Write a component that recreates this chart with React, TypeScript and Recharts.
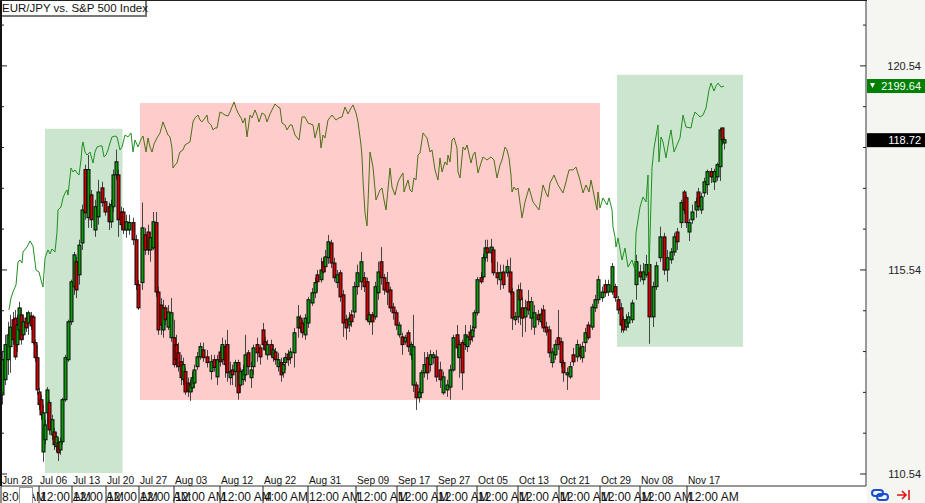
import React from "react";
import { ComposedChart, Bar, Line, XAxis, YAxis, ReferenceArea, ReferenceDot } from "recharts";

const title = "EUR/JPY vs. S&P 500 Index";
const lastPrice = 118.72;
const lastSpx = 2199.64;

// Position on the non-linear time axis (trading time, one unit is a few hours).
const candleTime = [
  2,5,8,10,13,15,17,19,21,23,
  26,28,31,33,35,37,39,41,43,45,
  47,49,52,54,56,58,60,62,65,68,
  71,74,76,79,82,85,88,91,95,98,
  102,105,109,111,113,116,118,121,123,126,
  129,133,136,138,142,145,148,150,153,156,
  158,161,163,165,168,171,174,176,178,181,
  183,185,188,190,192,194,197,200,203,207,
  211,214,217,220,222,225,227,230,232,235,
  238,240,243,245,248,251,253,257,260,263,
  265,267,271,273,275,278,281,283,285,288,
  290,294,298,300,302,305,308,312,315,317,
  321,323,325,328,331,334,337,340,343,346,
  349,351,354,357,361,364,367,369,372,375,
  378,381,384,387,390,393,396,399,402,405,
  408,411,413,416,419,421,424,427,430,433,
  436,440,443,447,450,453,457,459,462,465,
  467,470,472,474,477,481,483,485,487,491,
  493,497,500,503,507,510,512,515,518,520,
  522,525,528,531,534,538,541,543,546,549,
  552,555,558,561,563,567,570,573,577,580,
  582,585,588,592,595,598,602,605,608,612,
  615,618,621,623,626,628,632,636,640,643,
  646,649,653,656,660,664,667,671,674,677,
  681,684,686,689,692,696,698,701,704,707,
  711,714,717,720,722,724,
];
const bodyHigh = [
  113.34,113.71,113.95,114.14,114.32,114.36,114.19,114.61,114.44,114.27,
  114.36,114.49,114.41,114.39,113.76,113.39,112.55,112.36,112.04,111.74,
  112.60,112.29,111.87,111.57,111.45,111.30,111.33,112.36,113.39,114.27,
  115.25,115.91,115.74,116.15,117.01,118.00,118.00,117.38,117.09,117.45,
  117.55,117.21,117.09,117.14,117.87,118.19,117.87,116.96,116.96,116.72,
  116.70,116.70,116.28,115.18,116.57,116.40,116.47,116.33,116.72,116.70,
  115.00,114.68,114.61,114.61,114.51,114.49,113.88,113.71,113.51,113.29,
  113.22,113.05,112.77,112.72,112.90,113.09,113.41,113.66,113.58,113.41,
  113.29,113.34,113.34,113.53,113.71,113.66,113.71,113.05,113.09,113.27,
  113.27,113.05,113.09,113.46,113.51,113.09,113.63,113.71,113.63,114.07,
  113.78,113.71,113.71,113.58,113.53,113.34,113.27,113.22,113.39,113.48,
  113.53,114.00,114.39,114.36,114.24,114.36,114.81,114.98,115.23,115.42,
  115.54,115.74,115.86,116.23,116.20,115.71,115.42,115.47,114.93,114.32,
  114.36,114.44,115.13,115.47,115.74,115.35,115.25,114.44,114.44,115.13,
  115.49,115.74,115.35,115.23,115.05,114.63,114.49,114.19,113.90,113.88,
  114.00,113.71,113.66,112.72,112.55,113.02,113.22,113.39,113.46,113.46,
  113.41,113.09,112.92,112.72,113.09,113.88,113.95,113.71,113.76,113.95,
  113.90,114.02,114.07,114.49,115.30,115.35,115.84,116.08,116.08,116.10,
  116.03,115.47,115.47,115.49,115.62,115.49,115.00,114.39,115.05,115.05,
  114.61,114.61,114.76,114.76,114.49,114.44,114.46,114.56,114.14,114.07,
  113.53,113.71,113.88,113.78,113.27,113.02,113.17,113.46,113.71,113.63,
  113.66,114.00,114.19,114.63,114.81,115.30,115.00,115.18,115.18,115.62,
  115.13,114.81,114.61,114.32,114.32,114.39,114.73,115.74,115.49,115.49,
  115.67,115.67,115.13,115.64,116.35,116.35,115.84,115.98,116.35,116.47,
  117.19,117.45,117.31,116.70,116.96,117.21,117.45,117.33,117.70,117.95,
  117.95,117.95,118.12,118.97,119.02,118.73,
];
const bodyLow = [
  112.48,112.85,113.34,113.66,113.83,113.41,113.71,114.07,113.83,113.95,
  114.12,114.24,114.17,113.76,113.39,112.60,112.24,111.99,111.08,111.38,
  112.04,111.62,111.50,111.26,111.21,111.06,111.13,111.33,112.36,113.34,
  114.27,115.13,115.05,115.42,116.20,116.94,116.82,116.77,116.52,116.84,
  117.19,116.96,116.72,116.72,117.09,117.87,116.77,116.65,116.52,116.52,
  116.52,116.28,115.18,114.61,115.23,116.03,116.03,116.03,116.08,115.00,
  114.07,114.19,114.07,114.32,114.14,113.88,113.22,113.34,113.17,112.90,
  112.85,112.55,112.57,112.55,112.65,112.77,113.17,113.41,113.39,113.27,
  113.05,113.15,112.92,113.29,113.34,113.22,113.02,112.90,112.97,113.05,
  112.53,112.72,112.85,112.97,113.17,112.90,113.17,113.51,113.41,113.71,
  113.58,113.46,113.46,113.39,113.34,113.17,112.97,113.02,113.27,113.34,
  113.39,113.51,114.12,114.12,114.00,113.95,114.24,114.73,114.98,115.25,
  115.30,115.49,115.62,115.84,115.71,115.35,115.23,114.88,114.24,114.12,
  114.19,114.27,114.51,115.13,115.25,115.13,114.32,114.27,114.27,114.39,
  114.98,115.35,115.05,115.00,114.61,114.49,114.19,113.95,113.71,113.78,
  113.66,113.46,112.72,112.41,112.41,112.53,113.02,113.02,113.22,113.39,
  112.92,112.85,112.53,112.60,112.67,113.09,113.63,113.39,113.02,113.71,
  113.66,113.83,113.90,114.12,114.49,115.25,115.37,115.84,115.96,115.96,
  115.47,115.35,115.30,115.18,115.47,115.00,114.36,114.32,114.39,114.81,
  114.36,114.39,114.56,114.36,114.14,114.32,114.27,114.12,114.02,113.51,
  113.27,113.46,113.71,113.27,113.02,112.97,112.92,113.29,113.41,113.44,
  113.39,113.76,113.88,114.14,114.61,114.81,114.86,114.98,115.00,115.00,
  114.86,114.56,114.19,114.07,114.14,114.24,114.32,115.18,115.37,115.30,
  115.42,114.39,114.39,115.13,115.84,115.54,115.54,115.79,115.98,116.23,
  116.70,117.01,116.70,116.47,116.77,117.01,117.09,117.01,117.43,117.63,
  117.82,117.70,117.82,118.07,118.73,118.65,
];
const highs = [
  113.53,113.95,114.27,114.44,114.51,114.56,114.44,114.76,114.61,114.44,
  114.51,114.54,114.51,114.44,113.83,113.71,112.65,112.48,112.24,111.87,
  112.67,112.36,111.99,111.67,111.57,111.43,111.43,112.41,113.46,114.32,
  115.30,115.98,115.86,116.28,117.14,118.12,118.36,117.50,117.26,117.75,
  117.70,117.31,117.19,117.26,118.00,118.49,118.00,117.09,117.06,116.89,
  116.89,116.82,116.40,115.30,117.19,116.57,116.65,116.47,116.96,116.96,
  115.13,114.85,114.81,114.68,114.68,114.85,114.32,113.95,113.76,113.46,
  113.39,113.15,112.90,112.85,113.05,113.22,113.53,113.76,113.76,113.58,
  113.46,113.46,113.46,113.66,113.88,113.83,114.07,113.29,113.22,113.34,
  113.34,113.15,113.22,113.95,113.58,113.29,113.71,113.88,113.71,114.24,
  113.90,113.83,113.83,113.71,113.63,113.51,113.39,113.39,113.51,113.58,
  113.63,114.12,114.68,114.44,114.32,114.46,114.88,115.10,115.35,115.54,
  115.84,115.84,116.03,116.40,116.28,115.84,115.54,115.54,115.05,114.44,
  114.51,114.56,115.25,115.67,115.98,115.49,115.35,114.51,114.51,115.25,
  115.74,116.10,115.44,115.49,115.13,114.73,114.56,114.27,114.00,113.95,
  114.07,113.78,114.44,112.80,112.65,113.09,113.53,113.53,113.58,113.53,
  113.58,113.29,113.05,112.85,113.22,113.95,114.19,113.83,113.83,114.19,
  113.95,114.19,114.17,114.56,115.37,115.49,115.94,116.28,116.28,116.30,
  116.10,115.74,115.67,115.67,115.79,115.84,115.10,114.51,115.18,115.23,
  114.88,114.81,115.05,114.88,114.68,114.56,114.61,114.68,114.27,114.17,
  113.63,113.83,114.56,113.88,113.34,113.15,113.29,113.63,113.83,113.73,
  113.78,114.12,114.27,114.71,114.93,115.40,115.13,115.30,115.30,115.71,
  115.20,114.90,114.73,114.41,114.46,114.51,114.81,115.91,115.67,115.71,
  115.91,115.98,115.25,115.74,116.60,116.45,116.03,116.08,116.45,116.57,
  117.26,117.50,117.38,116.79,117.14,117.31,117.55,117.43,117.80,118.00,
  118.04,118.02,118.17,119.02,119.02,118.80,
];
const lows = [
  112.24,112.72,112.97,113.02,113.71,113.34,113.53,113.83,113.71,113.83,
  114.02,113.95,114.07,113.71,113.29,112.48,112.11,111.87,110.84,111.26,
  111.74,111.50,111.38,111.13,111.08,110.86,111.01,111.26,112.31,113.29,
  114.19,114.93,114.85,115.18,116.03,116.77,116.57,116.57,116.35,116.65,
  117.09,116.87,116.52,116.57,116.96,117.75,116.35,116.52,116.42,116.33,
  116.40,116.15,115.05,114.56,115.05,115.91,115.91,115.74,116.03,114.88,
  113.95,113.95,113.88,114.19,114.07,113.78,113.15,113.15,113.05,112.72,
  112.72,112.48,112.43,112.33,112.55,112.65,113.09,113.34,113.29,113.15,
  112.85,113.05,112.72,113.17,113.22,112.90,112.80,112.72,112.72,112.67,
  112.36,112.53,112.72,112.80,112.97,112.65,112.97,113.29,113.22,113.58,
  113.46,113.34,113.39,113.29,113.22,113.05,112.80,112.90,113.09,113.19,
  113.24,113.15,113.88,114.02,113.88,113.83,114.12,114.66,114.85,115.00,
  115.23,115.44,115.49,115.69,115.59,115.25,115.10,114.76,113.90,113.83,
  114.02,114.14,114.36,114.93,115.05,115.00,114.27,114.19,113.95,114.32,
  114.81,115.18,114.93,114.68,114.51,114.32,114.07,113.88,113.46,113.71,
  113.53,113.34,112.55,112.11,112.29,112.41,112.90,112.85,113.05,113.24,
  112.80,112.65,112.48,112.43,112.36,113.05,113.39,112.90,112.60,113.58,
  113.53,113.71,113.78,114.02,114.42,115.20,115.30,115.74,115.74,115.71,
  115.40,115.18,115.05,115.08,115.37,114.93,114.07,114.19,114.24,114.19,
  113.90,114.02,114.44,114.07,113.95,114.19,114.17,114.02,113.93,113.39,
  113.15,113.34,113.58,113.15,112.80,112.60,112.87,113.19,113.29,113.34,
  113.27,113.53,113.83,114.07,114.51,114.71,114.76,114.88,114.90,114.93,
  114.76,114.46,114.00,114.00,114.05,114.12,114.24,114.81,115.25,115.18,
  115.35,113.73,114.14,115.05,115.74,115.42,115.25,115.69,115.89,116.03,
  116.57,116.91,116.57,116.25,116.67,116.82,116.99,116.91,117.33,117.38,
  117.67,117.50,117.72,117.72,118.60,118.49,
];
// One letter per candle: u closed above its open, d closed below it.
const closedUp = [
  "uuuudduudu","dudddddduu","udududuuuu","uuduududuu","ddduuudddu",
  "udddudduud","dduduudddd","udduuuuudd","udududdudu","duuuduuddd",
  "dudududuud","uuudduuuud","uduudduddd","uduuuddudu","uddddddudu",
  "duuduuuduu","dduuuududu","uduuuduudu","ddududduud","duduududdd",
  "uuddduudud","uuduuuuduu","dddduuuudu","uduuuduuud","udduuuduuu",
  "duuudu",
].join("");

const spxTime = [
  9,11,13,16,18,20,22,23,27,30,
  33,36,39,41,43,45,48,50,52,55,
  57,58,61,63,65,67,68,71,73,75,
  77,79,81,82,83,85,87,90,93,95,
  97,100,102,104,106,108,110,112,115,117,
  120,122,125,128,131,133,135,138,141,143,
  146,148,150,152,154,157,160,163,166,168,
  170,172,173,175,177,179,180,183,185,188,
  190,193,195,198,200,202,205,207,208,211,
  213,215,217,220,222,225,228,230,234,236,
  238,241,243,245,247,250,252,255,257,259,
  262,265,267,270,272,275,278,280,282,285,
  287,290,292,295,299,302,305,308,313,315,
  319,321,323,325,328,332,336,339,342,345,
  348,351,353,356,358,361,362,363,365,367,
  368,370,373,376,378,380,382,384,386,390,
  392,395,398,401,403,404,406,408,410,412,
  414,416,418,420,423,427,430,432,435,438,
  440,442,445,447,448,450,452,454,457,458,
  460,463,465,467,471,473,475,478,481,483,
  487,491,494,497,500,502,505,507,509,511,
  512,514,516,518,522,525,529,533,539,543,
  546,548,550,554,558,563,566,569,573,576,
  580,583,586,589,591,594,597,598,600,603,
  607,609,612,613,615,616,618,622,625,628,
  632,635,636,640,643,646,648,649,652,654,
  658,659,661,663,666,669,671,674,677,680,
  683,686,691,693,695,700,703,706,709,711,
  714,716,718,721,724,
];
const spxValue = [
  2059.7,2067.2,2070.9,2075.3,2089.7,2090.9,2089.0,2095.9,2099.0,2102.8,
  2099.7,2084.7,2083.4,2078.4,2074.0,2092.2,2097.2,2094.7,2097.8,2095.9,
  2108.4,2122.2,2124.0,2129.7,2132.8,2134.7,2131.5,2148.4,2145.9,2147.2,
  2145.3,2144.0,2153.4,2161.5,2164.7,2158.4,2156.5,2158.4,2151.5,2158.4,
  2161.5,2162.2,2162.2,2155.3,2156.5,2159.7,2164.0,2167.8,2168.4,2167.8,
  2159.7,2161.5,2169.0,2167.8,2170.3,2158.4,2165.9,2161.5,2166.5,2168.4,
  2158.4,2167.2,2161.5,2158.4,2163.4,2167.2,2170.3,2177.2,2172.2,2169.0,
  2167.8,2160.9,2148.4,2150.3,2151.5,2156.5,2158.4,2159.7,2162.8,2164.0,
  2164.7,2177.2,2179.7,2181.5,2178.4,2177.2,2179.7,2181.5,2177.2,2175.3,
  2172.2,2173.4,2173.4,2183.4,2182.8,2181.5,2180.9,2183.4,2189.7,2185.9,
  2182.8,2179.7,2176.5,2179.7,2167.8,2181.5,2179.7,2184.7,2181.5,2177.2,
  2182.8,2181.5,2177.2,2182.2,2184.7,2188.4,2186.5,2185.9,2176.5,2175.3,
  2172.2,2175.3,2175.3,2169.0,2165.9,2180.3,2180.3,2176.5,2175.3,2167.2,
  2176.5,2160.9,2169.0,2167.2,2178.4,2181.5,2178.4,2179.7,2180.3,2186.5,
  2182.2,2185.9,2187.8,2182.8,2177.2,2162.8,2155.3,2140.9,2120.3,2112.2,
  2126.5,2158.4,2149.0,2128.4,2131.5,2134.7,2135.9,2128.4,2122.2,2148.4,
  2136.5,2131.5,2139.7,2143.4,2145.3,2133.4,2137.2,2140.9,2134.7,2133.4,
  2142.2,2140.9,2156.5,2157.8,2170.3,2167.2,2158.4,2159.7,2147.2,2140.9,
  2154.7,2145.9,2152.2,2150.3,2156.5,2152.2,2165.9,2167.2,2160.9,2145.9,
  2142.2,2161.5,2159.7,2162.8,2151.5,2156.5,2158.4,2145.3,2151.5,2155.3,
  2153.4,2155.3,2153.4,2142.2,2150.3,2153.4,2161.5,2159.7,2154.7,2144.0,
  2133.4,2136.5,2134.7,2135.9,2117.2,2127.2,2135.9,2127.2,2122.2,2137.8,
  2132.8,2130.3,2139.0,2144.0,2137.8,2132.8,2139.7,2147.2,2147.2,2149.0,
  2140.9,2132.8,2137.8,2133.4,2140.9,2131.5,2122.2,2133.4,2123.4,2129.7,
  2125.3,2129.7,2122.2,2111.5,2105.3,2099.0,2104.7,2090.9,2098.4,2086.5,
  2090.9,2084.7,2107.8,2124.0,2130.3,2127.2,2144.0,2083.4,2148.4,2160.9,
  2175.3,2152.2,2167.8,2164.7,2154.7,2165.9,2172.2,2158.4,2162.8,2167.2,
  2181.5,2174.0,2173.4,2179.7,2183.4,2180.3,2181.5,2185.9,2197.2,2201.5,
  2196.5,2199.7,2201.5,2199.0,2199.6,
];

const timeTicks = [1,39,72,106,139,174,220,263,308,356,397,437,477,518,559,600,640,687];
const dateLabels = ["Jun 28","Jul 06","Jul 13","Jul 20","Jul 27","Aug 03","Aug 12","Aug 22","Aug 31","Sep 09","Sep 17","Sep 27","Oct 05","Oct 13","Oct 21","Oct 29","Nov 08","Nov 17"];
const hourLabels = ["8:00 AM","12:00 AM","12:00 AM","12:00 AM","12:00 AM","12:00 AM","12:00 AM","4:00 AM","12:00 AM","12:00 AM","12:00 AM","12:00 AM","12:00 AM","12:00 AM","12:00 AM","12:00 AM","12:00 AM","12:00 AM"];
const priceTicks = [121.54,120.54,119.54,118.54,117.54,116.54,115.54,114.54,113.54,112.54,111.54,110.54];
const labelledPrices = [120.54,115.54,110.54];

const zoneStart = [45,140,617];
const zoneEnd = [122.5,600,743];
const zoneTop = [119.0,119.63,120.32];
const zoneBottom = [110.565,112.354,113.66];
const zoneColor = ["#cce5ce","#ffcccc","#cce5ce"];

const FONT = "'Liberation Sans', Arial, sans-serif";
const WIDTH = 925;
const HEIGHT = 503;

const candles = candleTime.map((t, i) => {
  const isUp = closedUp[i] === "u";
  return {
    t,
    high: highs[i],
    low: lows[i],
    open: isUp ? bodyLow[i] : bodyHigh[i],
    close: isUp ? bodyHigh[i] : bodyLow[i],
    range: [lows[i], highs[i]],
  };
});
const spxRows = spxTime.map((t, i) => ({ t, spx: spxValue[i] }));
const spxBefore = spxRows.filter((r) => r.t <= zoneStart[1] + 1);
const spxInside = spxRows.filter((r) => r.t >= spxBefore[spxBefore.length - 1].t && r.t <= zoneEnd[1] + 1);
const spxAfter = spxRows.filter((r) => r.t >= spxInside[spxInside.length - 1].t);

function CandleShape(props: any) {
  const { x, y, width, height, payload } = props;
  const h = Math.abs(height) || 1;
  const top = Math.min(y, y + height);
  const perUnit = h / (payload.high - payload.low);
  const cx = Math.round(x + width / 2) + 0.5;
  const bodyTop = top + (payload.high - Math.max(payload.open, payload.close)) * perUnit;
  const bodyH = Math.max(1, Math.abs(payload.open - payload.close) * perUnit);
  return (
    <g>
      <line x1={cx} x2={cx} y1={top} y2={top + h} stroke="#2a2a2a" strokeWidth={1} strokeOpacity={0.85} />
      <rect
        x={cx - 1.5}
        y={bodyTop}
        width={3}
        height={bodyH}
        fill={payload.close >= payload.open ? "#0a9e0a" : "#d40000"}
        stroke="#0a0a0a"
        strokeWidth={1}
      />
    </g>
  );
}

function TimeTick(props: any) {
  const { x, y, index } = props;
  return (
    <g fontFamily={FONT}>
      <text x={x + 1} y={y - 2.5} fontSize={10.2} fill="#111">{dateLabels[index]}</text>
      <line x1={x} x2={x} y1={y} y2={y + 17} stroke="#222" />
      <text x={x + 1} y={y + 15} fontSize={12} fill="#111">{hourLabels[index]}</text>
    </g>
  );
}

function RightTick(props: any) {
  const { x, y, payload } = props;
  const major = labelledPrices.includes(payload.value);
  return (
    <g fontFamily={FONT}>
      <line x1={x} x2={x - (major ? 6 : 3)} y1={y} y2={y} stroke="#222" />
      {major && (
        <text x={x + 55} y={y + 4} textAnchor="end" fontSize={11} fill="#222">{payload.value.toFixed(2)}</text>
      )}
    </g>
  );
}

function LeftTick(props: any) {
  const { x, y, payload } = props;
  const major = labelledPrices.includes(payload.value);
  return <line x1={x} x2={x + (major ? 6 : 3)} y1={y} y2={y} stroke="#222" />;
}

function PriceTag(props: any) {
  const { cx, cy, tagColor, text, arrow } = props;
  return (
    <g fontFamily={FONT}>
      <rect x={cx + 1} y={cy - 7} width={58} height={14} fill={tagColor} />
      {arrow && <path d={`M${cx + 4} ${cy - 3}h5l-2.5 5z`} fill="#fff" />}
      <text x={cx + 55} y={cy + 4} textAnchor="end" fontSize={11} fill="#fff">{text}</text>
    </g>
  );
}

export default function App() {
  return (
    <div style={{ position: "fixed", left: 0, top: 0, width: WIDTH, height: HEIGHT, background: "#fff", overflow: "hidden" }}>
      <div style={{ position: "absolute", left: 867, top: 0, width: 58, height: HEIGHT, background: "#f5f5f2" }} />
      <ComposedChart
        width={WIDTH}
        height={HEIGHT}
        data={candles}
        margin={{ top: 1, right: 0, bottom: 0, left: 0 }}
        style={{ position: "absolute", left: 0, top: 0 }}
      >
        <XAxis
          dataKey="t"
          type="number"
          domain={[1, 866]}
          ticks={timeTicks}
          interval={0}
          height={17}
          tickSize={0}
          tickMargin={0}
          tickLine={false}
          tick={<TimeTick />}
          axisLine={{ stroke: "#333" }}
          allowDataOverflow
        />
        <YAxis
          yAxisId="price"
          orientation="right"
          width={59}
          domain={[110.246, 122.13]}
          ticks={priceTicks}
          interval={0}
          tickSize={0}
          tickMargin={0}
          tickLine={false}
          tick={<RightTick />}
          axisLine={{ stroke: "#333" }}
          allowDataOverflow
        />
        <YAxis
          yAxisId="priceLeft"
          orientation="left"
          width={1}
          domain={[110.246, 122.13]}
          ticks={priceTicks}
          interval={0}
          tickSize={0}
          tickMargin={0}
          tickLine={false}
          tick={<LeftTick />}
          axisLine={{ stroke: "#111", strokeWidth: 2 }}
          allowDataOverflow
        />
        <YAxis yAxisId="spx" hide domain={[1949.65, 2252.78]} allowDataOverflow />
        {zoneStart.map((x1, i) => (
          <ReferenceArea
            key={x1}
            yAxisId="price"
            x1={x1}
            x2={zoneEnd[i]}
            y1={zoneBottom[i]}
            y2={zoneTop[i]}
            fill={zoneColor[i]}
            fillOpacity={1}
            stroke="none"
            ifOverflow="visible"
          />
        ))}
        <Line data={spxBefore} yAxisId="spx" dataKey="spx" stroke="#1f8f1f" strokeWidth={1} dot={false} isAnimationActive={false} />
        <Line data={spxInside} yAxisId="spx" dataKey="spx" stroke="#4c6f16" strokeWidth={1} dot={false} isAnimationActive={false} />
        <Line data={spxAfter} yAxisId="spx" dataKey="spx" stroke="#1f8f1f" strokeWidth={1} dot={false} isAnimationActive={false} />
        <Bar
          yAxisId="price"
          dataKey="range"
          barSize={3}
          shape={<CandleShape />}
          isAnimationActive={false}
        />
        <ReferenceDot
          yAxisId="spx"
          x={866}
          y={lastSpx}
          r={0}
          ifOverflow="visible"
          shape={<PriceTag tagColor="#008000" text={lastSpx.toFixed(2)} arrow />}
        />
        <ReferenceDot
          yAxisId="price"
          x={866}
          y={lastPrice}
          r={0}
          ifOverflow="visible"
          shape={<PriceTag tagColor="#000" text={lastPrice.toFixed(2)} />}
        />
      </ComposedChart>
      <div style={{ position: "absolute", left: 0, top: 0, width: 867, height: 1, background: "#222" }} />
      <div
        style={{
          position: "absolute",
          left: 2,
          top: 1,
          width: 143,
          height: 14,
          background: "#fff",
          borderRight: "2px solid #777",
          borderBottom: "2px solid #777",
          fontFamily: FONT,
          fontSize: 11.5,
          lineHeight: "14px",
          color: "#111",
          whiteSpace: "nowrap",
        }}
      >
        {title}
      </div>
      <div style={{ position: "absolute", left: 19, top: 487, width: 12, height: 16, background: "#fff", border: "1px solid #999", borderBottom: "none" }} />
      <svg style={{ position: "absolute", left: 870, top: 488 }} width={44} height={14}>
        <g fill="none" stroke="#1a4fd0" strokeWidth={2}>
          <rect x={2} y={2} width={11} height={6} rx={3} />
          <rect x={7} y={6} width={11} height={6} rx={3} />
        </g>
        <path d="M27 7h9M32 3l4 4-4 4M39 2v10" fill="none" stroke="#e01515" strokeWidth={1.6} />
      </svg>
    </div>
  );
}
